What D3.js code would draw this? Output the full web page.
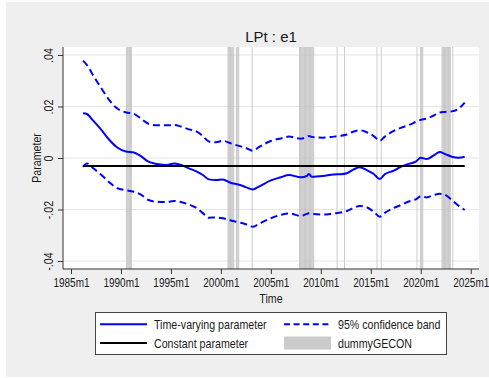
<!DOCTYPE html>
<html>
<head>
<meta charset="utf-8">
<script src="https://cdn.jsdelivr.net/npm/d3@7"></script>
<style>
  html, body { margin: 0; padding: 0; background: #ffffff; }
  svg { display: block; }
  text { font-family: "Liberation Sans", Arial, sans-serif; }
</style>
</head>
<body>
<svg id="chart" width="489" height="378"></svg>
<script>
// Time axis in decimal years (monthly data, 1986m3 - 2024m5)
const dates = [
  1986.2, 1986.6, 1987.2, 1988.0, 1988.8, 1989.6, 1990.5, 1991.2, 1992.0, 1992.7,
  1993.6, 1994.6, 1995.3, 1996.0, 1996.8, 1997.6, 1998.2, 1998.8, 1999.5, 2000.2,
  2000.9, 2001.8, 2002.5, 2003.2, 2003.8, 2005.0, 2006.0, 2006.8, 2008.0, 2008.6,
  2008.8, 2009.1, 2010.2, 2011.3, 2012.0, 2012.6, 2013.3, 2013.9, 2014.6, 2015.3,
  2015.9, 2016.4, 2017.3, 2018.0, 2018.8, 2019.5, 2020.0, 2020.6, 2021.3, 2021.9,
  2022.4, 2023.1, 2023.8, 2024.4
];

// Time-varying parameter estimate
const tvParam = [
  0.0174, 0.0171, 0.0146, 0.0111, 0.0072, 0.0042, 0.0025, 0.0022, 0.0007, -0.0013,
  -0.0023, -0.0027, -0.0021, -0.0027, -0.0040, -0.0053, -0.0066, -0.0083, -0.0085, -0.0083,
  -0.0095, -0.0104, -0.0113, -0.0122, -0.0111, -0.0087, -0.0075, -0.0066, -0.0075, -0.0070,
  -0.0062, -0.0073, -0.0070, -0.0064, -0.0063, -0.0059, -0.0044, -0.0036, -0.0047, -0.0062,
  -0.0082, -0.0063, -0.0049, -0.0034, -0.0023, -0.0014, 0.0001, -0.0004, 0.0010, 0.0023,
  0.0016, 0.0005, 0.0001, 0.0005
];

// Upper bound of the 95% confidence band
const bandUpper = [
  0.0378, 0.0361, 0.0322, 0.0273, 0.0227, 0.0193, 0.0177, 0.0173, 0.0153, 0.0134,
  0.0127, 0.0127, 0.0128, 0.0122, 0.0111, 0.0102, 0.0085, 0.0064, 0.0061, 0.0067,
  0.0058, 0.0047, 0.0039, 0.0028, 0.0042, 0.0066, 0.0076, 0.0083, 0.0075, 0.0082,
  0.0085, 0.0082, 0.0079, 0.0083, 0.0086, 0.0091, 0.0103, 0.0108, 0.0100, 0.0085,
  0.0067, 0.0083, 0.0105, 0.0117, 0.0128, 0.0140, 0.0148, 0.0153, 0.0165, 0.0177,
  0.0179, 0.0181, 0.0192, 0.0215
];

// Lower bound of the 95% confidence band
const bandLower = [
  -0.0034, -0.0021, -0.0039, -0.0064, -0.0093, -0.0117, -0.0125, -0.0130, -0.0142, -0.0162,
  -0.0170, -0.0171, -0.0167, -0.0171, -0.0181, -0.0195, -0.0214, -0.0232, -0.0231, -0.0234,
  -0.0242, -0.0250, -0.0257, -0.0267, -0.0256, -0.0234, -0.0221, -0.0215, -0.0225, -0.0217,
  -0.0215, -0.0217, -0.0220, -0.0215, -0.0212, -0.0206, -0.0193, -0.0186, -0.0191, -0.0209,
  -0.0228, -0.0213, -0.0194, -0.0183, -0.0169, -0.0161, -0.0148, -0.0153, -0.0144, -0.0139,
  -0.0142, -0.0163, -0.0186, -0.0202
];

// Constant-parameter estimate
const constParam = -0.0031;

// Months in which dummyGECON equals one
const dummyMonths = [
  "1990m7", "1990m8", "1990m9", "1990m10", "1990m11", "1990m12", "1991m1",
  "2000m9", "2000m10", "2000m11", "2000m12", "2001m1", "2001m2", "2001m3", "2001m4",
  "2001m7", "2001m8", "2001m9", "2001m10",
  "2003m2",
  "2007m11", "2007m12", "2008m1", "2008m2", "2008m3", "2008m4", "2008m5", "2008m6",
  "2008m7", "2008m8", "2008m9", "2008m10", "2008m11", "2008m12", "2009m1", "2009m2",
  "2009m3", "2009m4",
  "2011m8", "2012m5", "2015m8", "2016m1", "2019m8",
  "2019m12", "2020m1", "2020m2", "2020m3",
  "2022m2", "2022m3", "2022m4", "2022m5", "2022m6", "2022m7", "2022m8", "2022m9",
  "2022m10", "2022m11", "2022m12",
  "2023m3"
];

const xTicks = [1985, 1990, 1995, 2000, 2005, 2010, 2015, 2020, 2025];
const xTickLabels = ["1985m1", "1990m1", "1995m1", "2000m1", "2005m1", "2010m1", "2015m1", "2020m1", "2025m1"];
const yTicks = [-0.04, -0.02, 0, 0.02, 0.04];
const yTickLabels = ["-.04", "-.02", "0", ".02", ".04"];

const legendItems = [
  { label: "Time-varying parameter", kind: "solid" },
  { label: "95% confidence band", kind: "dash" },
  { label: "Constant parameter", kind: "const" },
  { label: "dummyGECON", kind: "bar" }
];

const W = 489, H = 378;
const plot = { left: 63, right: 479, top: 47, bottom: 269 };
const BLUE = "#0000ff";
const BAR = "#c2c2c2";
const SQUEEZE = "scale(0.82,1)";       // condensed look for axis and legend text
const SQUEEZE_TICK = "scale(0.77,1)";  // date tick labels are a little tighter
const TEXT = "#1a1a1a";

const svg = d3.select("#chart");

// graph background
svg.append("rect").attr("x", 6).attr("y", 2).attr("width", W - 6).attr("height", H - 3)
  .attr("fill", "#efefef");

// plot region
svg.append("rect")
  .attr("x", plot.left).attr("y", plot.top)
  .attr("width", plot.right - plot.left).attr("height", plot.bottom - plot.top)
  .attr("fill", "#ffffff");

const x = d3.scaleLinear()
  .domain([1984.2, 2025.83])
  .range([plot.left, plot.right]);
const y = d3.scaleLinear()
  .domain([-0.0431, 0.0431])
  .range([plot.bottom, plot.top]);

// horizontal grid
svg.append("g").selectAll("line").data(yTicks).join("line")
  .attr("x1", plot.left).attr("x2", plot.right)
  .attr("y1", d => y(d)).attr("y2", d => y(d))
  .attr("stroke", "#e6e6e6").attr("stroke-width", 1.2);

// dummy bars, one per month
const monthStart = s => { const [yr, m] = s.split("m").map(Number); return yr + (m - 1) / 12; };
svg.append("g").selectAll("rect").data(dummyMonths).join("rect")
  .attr("x", d => x(monthStart(d)))
  .attr("width", d => x(monthStart(d) + 1 / 12) - x(monthStart(d)))
  .attr("y", plot.top).attr("height", plot.bottom - plot.top)
  .attr("fill", BAR);

const series = dates.map((d, i) => ({ t: d, v: tvParam[i], lo: bandLower[i], hi: bandUpper[i] }));
const line = key => d3.line().x(d => x(d.t)).y(d => y(d[key])).curve(d3.curveMonotoneX);

svg.append("path").datum(series).attr("d", line("hi"))
  .attr("fill", "none").attr("stroke", BLUE).attr("stroke-width", 2).attr("stroke-dasharray", "7,4");
svg.append("path").datum(series).attr("d", line("lo"))
  .attr("fill", "none").attr("stroke", BLUE).attr("stroke-width", 2).attr("stroke-dasharray", "7,4");
svg.append("path").datum(series).attr("d", line("v"))
  .attr("fill", "none").attr("stroke", BLUE).attr("stroke-width", 2);

// constant parameter line
svg.append("line")
  .attr("x1", x(dates[0])).attr("x2", x(dates[dates.length - 1]))
  .attr("y1", y(constParam)).attr("y2", y(constParam))
  .attr("stroke", "#000").attr("stroke-width", 2);

// axes
const axisColor = "#333";
const xAxis = d3.axisBottom(x).tickValues(xTicks).tickFormat((d, i) => xTickLabels[i]).tickSize(5).tickPadding(4);
const gx = svg.append("g").attr("transform", `translate(0,${plot.bottom})`).call(xAxis);
gx.select(".domain").attr("stroke", axisColor).attr("d", `M${plot.left},0H${plot.right}`);
gx.selectAll(".tick line").attr("stroke", axisColor);
gx.selectAll(".tick text")
  .attr("font-size", 13).attr("fill", TEXT)
  .attr("dy", "0.71em").attr("transform", SQUEEZE_TICK);

const yAxis = d3.axisLeft(y).tickValues(yTicks).tickFormat((d, i) => yTickLabels[i]).tickSize(5);
const gy = svg.append("g").attr("transform", `translate(${plot.left},0)`).call(yAxis);
gy.select(".domain").attr("stroke", axisColor).attr("d", `M0,${plot.top}V${plot.bottom}`);
gy.selectAll(".tick line").attr("stroke", axisColor);
gy.selectAll(".tick text")
  .attr("font-size", 13).attr("fill", TEXT)
  .attr("x", null).attr("dy", null)
  .attr("text-anchor", "middle")
  .attr("transform", `translate(-10,0) rotate(-90) ${SQUEEZE}`);
svg.selectAll("g").attr("font-family", null);

// titles
svg.append("text").attr("x", (plot.left + plot.right) / 2).attr("y", 41.5)
  .attr("text-anchor", "middle")
  .attr("font-size", 15).attr("fill", TEXT).text("LPt : e1");

svg.append("text")
  .attr("transform", `translate(40.5,${(plot.top + plot.bottom) / 2}) rotate(-90) ${SQUEEZE}`)
  .attr("text-anchor", "middle").attr("font-size", 13).attr("fill", TEXT).text("Parameter");

svg.append("text")
  .attr("transform", `translate(${(plot.left + plot.right) / 2},302.5) ${SQUEEZE}`)
  .attr("text-anchor", "middle").attr("font-size", 13).attr("fill", TEXT).text("Time");

// legend
const lg = svg.append("g");
lg.append("rect").attr("x", 95.5).attr("y", 312.5).attr("width", 351).attr("height", 42)
  .attr("fill", "#fff").attr("stroke", "#444").attr("stroke-width", 1);
const cols = [100, 284], rows = [324.3, 343];
legendItems.forEach((it, i) => {
  const cx = cols[i % 2], cy = rows[Math.floor(i / 2)];
  if (it.kind === "bar") {
    lg.append("rect").attr("x", cx).attr("y", cy - 6.5).attr("width", 47).attr("height", 13).attr("fill", "#cbcbcb");
  } else {
    lg.append("line").attr("x1", cx).attr("x2", cx + 47).attr("y1", cy).attr("y2", cy)
      .attr("stroke", it.kind === "const" ? "#000" : BLUE).attr("stroke-width", 2)
      .attr("stroke-dasharray", it.kind === "dash" ? "6,3.6" : null);
  }
  lg.append("text")
    .attr("transform", `translate(${cx + 54},${cy + 5}) ${SQUEEZE}`)
    .attr("font-size", 13).attr("fill", TEXT).text(it.label);
});
</script>
</body>
</html>
